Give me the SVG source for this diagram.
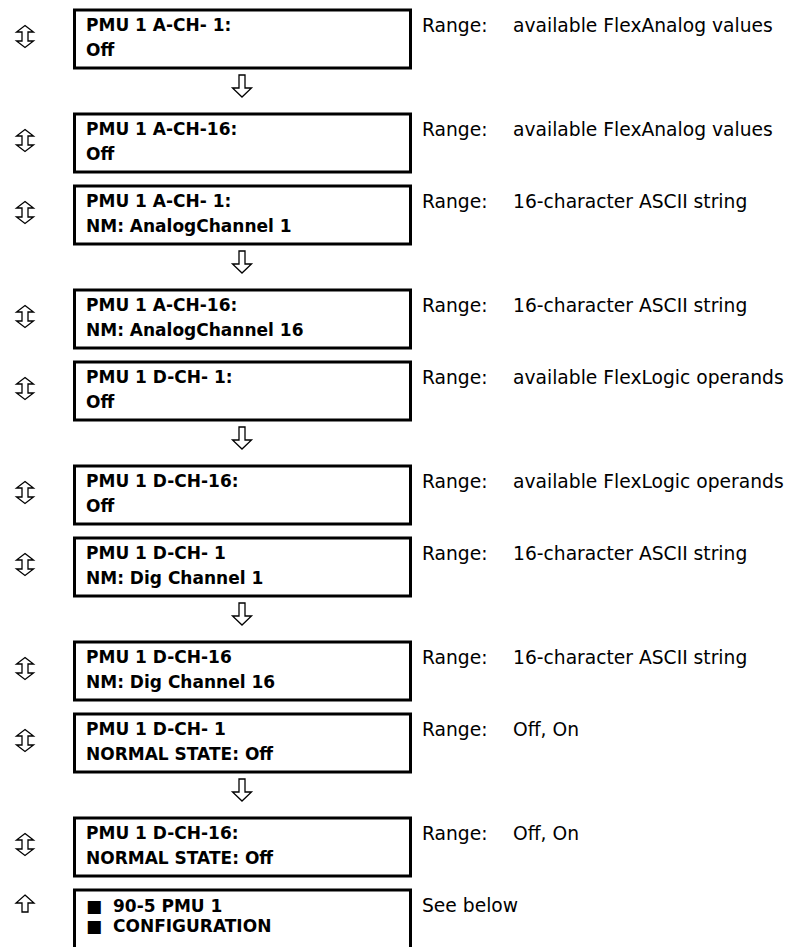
<svg xmlns="http://www.w3.org/2000/svg" width="791" height="947" viewBox="0 0 791 947">
<style>
.box{fill:none;stroke:#000;stroke-width:3}
.t{font-family:"DejaVu Sans","Liberation Sans",sans-serif;font-size:17px;font-weight:bold;fill:#000}
.r{font-family:"DejaVu Sans","Liberation Sans",sans-serif;font-size:18.7px;fill:#000}
.arr{fill:#fff;stroke:#000;stroke-width:1.3;stroke-linejoin:miter}
</style>
<defs>
<polygon id="ud" class="arr" points="0,-11 8.5,-4.5 3,-4.5 3,4.5 8.5,4.5 0,11 -8.5,4.5 -3,4.5 -3,-4.5 -8.5,-4.5"/>
<polygon id="dn" class="arr" points="-3,0 3,0 3,13 9.5,13 0,22 -9.5,13 -3,13"/>
<polygon id="up" class="arr" points="0,0 9,8 3,8 3,17 -3,17 -3,8 -9,8"/>
</defs>
<rect width="791" height="947" fill="#fff"/>
<g id="connectors">
<use href="#dn" x="242" y="75"/>
<use href="#dn" x="242" y="251"/>
<use href="#dn" x="242" y="427"/>
<use href="#dn" x="242" y="603"/>
<use href="#dn" x="242" y="779"/>
</g>
<g id="n1"><use href="#ud" x="25" y="36.5"/><rect class="box" x="74.5" y="10" width="336" height="58"/><text class="t" x="86" y="31">PMU 1 A-CH- 1:</text><text class="t" x="86" y="55.5">Off</text><text class="r" x="422" y="32"><tspan>Range:</tspan><tspan x="513">available FlexAnalog values</tspan></text></g>
<g id="n2"><use href="#ud" x="25" y="140.5"/><rect class="box" x="74.5" y="114" width="336" height="58"/><text class="t" x="86" y="135">PMU 1 A-CH-16:</text><text class="t" x="86" y="159.5">Off</text><text class="r" x="422" y="136"><tspan>Range:</tspan><tspan x="513">available FlexAnalog values</tspan></text></g>
<g id="n3"><use href="#ud" x="25" y="212.5"/><rect class="box" x="74.5" y="186" width="336" height="58"/><text class="t" x="86" y="207">PMU 1 A-CH- 1:</text><text class="t" x="86" y="231.5">NM: AnalogChannel 1</text><text class="r" x="422" y="208"><tspan>Range:</tspan><tspan x="513">16-character ASCII string</tspan></text></g>
<g id="n4"><use href="#ud" x="25" y="316.5"/><rect class="box" x="74.5" y="290" width="336" height="58"/><text class="t" x="86" y="311">PMU 1 A-CH-16:</text><text class="t" x="86" y="335.5">NM: AnalogChannel 16</text><text class="r" x="422" y="312"><tspan>Range:</tspan><tspan x="513">16-character ASCII string</tspan></text></g>
<g id="n5"><use href="#ud" x="25" y="388.5"/><rect class="box" x="74.5" y="362" width="336" height="58"/><text class="t" x="86" y="383">PMU 1 D-CH- 1:</text><text class="t" x="86" y="407.5">Off</text><text class="r" x="422" y="384"><tspan>Range:</tspan><tspan x="513">available FlexLogic operands</tspan></text></g>
<g id="n6"><use href="#ud" x="25" y="492.5"/><rect class="box" x="74.5" y="466" width="336" height="58"/><text class="t" x="86" y="487">PMU 1 D-CH-16:</text><text class="t" x="86" y="511.5">Off</text><text class="r" x="422" y="488"><tspan>Range:</tspan><tspan x="513">available FlexLogic operands</tspan></text></g>
<g id="n7"><use href="#ud" x="25" y="564.5"/><rect class="box" x="74.5" y="538" width="336" height="58"/><text class="t" x="86" y="559">PMU 1 D-CH- 1</text><text class="t" x="86" y="583.5">NM: Dig Channel 1</text><text class="r" x="422" y="560"><tspan>Range:</tspan><tspan x="513">16-character ASCII string</tspan></text></g>
<g id="n8"><use href="#ud" x="25" y="668.5"/><rect class="box" x="74.5" y="642" width="336" height="58"/><text class="t" x="86" y="663">PMU 1 D-CH-16</text><text class="t" x="86" y="687.5">NM: Dig Channel 16</text><text class="r" x="422" y="664"><tspan>Range:</tspan><tspan x="513">16-character ASCII string</tspan></text></g>
<g id="n9"><use href="#ud" x="25" y="740.5"/><rect class="box" x="74.5" y="714" width="336" height="58"/><text class="t" x="86" y="735">PMU 1 D-CH- 1</text><text class="t" x="86" y="759.5">NORMAL STATE: Off</text><text class="r" x="422" y="736"><tspan>Range:</tspan><tspan x="513">Off, On</tspan></text></g>
<g id="n10"><use href="#ud" x="25" y="844.5"/><rect class="box" x="74.5" y="818" width="336" height="58"/><text class="t" x="86" y="839">PMU 1 D-CH-16:</text><text class="t" x="86" y="863.5">NORMAL STATE: Off</text><text class="r" x="422" y="840"><tspan>Range:</tspan><tspan x="513">Off, On</tspan></text></g>
<g id="n11"><use href="#up" x="25" y="895"/><rect class="box" x="74.5" y="890" width="336" height="70"/><text class="t" x="86" y="912">■ <tspan x="113">90-5 PMU 1</tspan></text><text class="t" x="86" y="932">■ <tspan x="113">CONFIGURATION</tspan></text><text class="r" x="422" y="912">See below</text></g>
</svg>
